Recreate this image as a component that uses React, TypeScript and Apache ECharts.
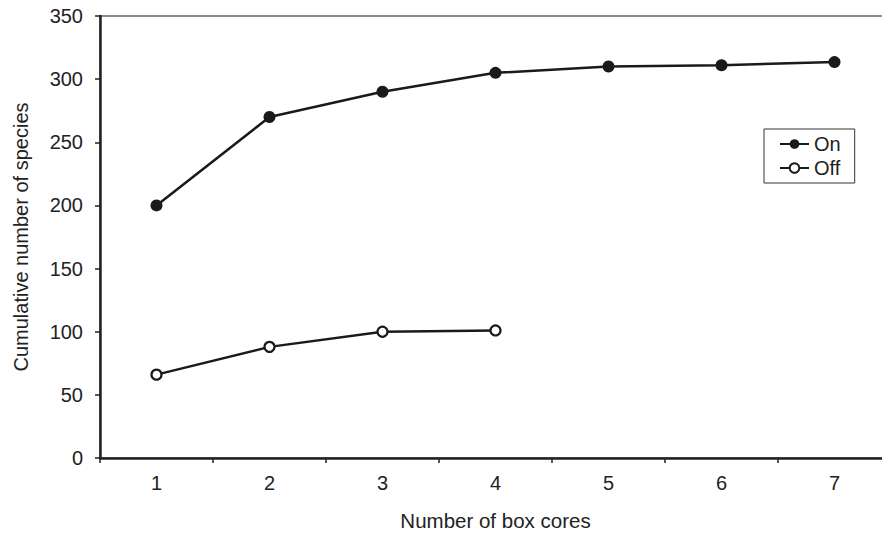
import React, { useEffect, useRef } from "react";
import * as echarts from "echarts";

const categories = ["1", "2", "3", "4", "5", "6", "7"];
const onValues = [200, 270, 290, 305, 310, 311, 313.5];
const offValues = [66, 88, 100, 101];
const yTicks = { min: 0, max: 350, interval: 50 };

export default function App() {
  const ref = useRef<HTMLDivElement>(null);
  useEffect(() => {
    if (!ref.current) return;
    const chart = echarts.init(ref.current, null, { renderer: "svg" });
    const font = "Liberation Sans, Arial, sans-serif";
    chart.setOption({
      animation: false,
      backgroundColor: "#ffffff",
      textStyle: { fontFamily: font },
      grid: {
        left: 100,
        top: 16,
        right: 9,
        bottom: 75,
        show: true,
        borderColor: "#666",
        borderWidth: 1.5,
        backgroundColor: "transparent",
      },
      legend: {
        orient: "vertical",
        left: 764,
        top: 129,
        padding: [5, 14, 5, 15],
        itemGap: 4,
        itemWidth: 29,
        itemHeight: 12,
        borderColor: "#333",
        borderWidth: 1,
        textStyle: { fontSize: 20, color: "#222", fontFamily: font },
        data: ["On", "Off"],
      },
      xAxis: {
        type: "category",
        data: categories,
        boundaryGap: true,
        name: "Number of box cores",
        nameLocation: "middle",
        nameGap: 52,
        nameTextStyle: { fontSize: 20.5, color: "#222", fontFamily: font },
        axisLine: { lineStyle: { color: "#222", width: 2.5 } },
        axisTick: { show: true, alignWithLabel: false, length: 5, lineStyle: { color: "#222", width: 1.5 } },
        axisLabel: { fontSize: 20, color: "#222", margin: 15, fontFamily: font },
        splitLine: { show: false },
      },
      yAxis: {
        type: "value",
        min: yTicks.min,
        max: yTicks.max,
        interval: yTicks.interval,
        name: "Cumulative number of species",
        nameLocation: "middle",
        nameGap: 69,
        nameTextStyle: { fontSize: 20, color: "#222", fontFamily: font },
        axisLine: { show: true, lineStyle: { color: "#222", width: 2.5 } },
        axisTick: { show: true, length: 5, lineStyle: { color: "#222", width: 1.5 } },
        axisLabel: { fontSize: 20, color: "#222", margin: 17, fontFamily: font },
        splitLine: { show: false },
      },
      series: [
        {
          name: "On",
          type: "line",
          data: onValues,
          symbol: "circle",
          symbolSize: 12,
          lineStyle: { color: "#1a1a1a", width: 2.5 },
          itemStyle: { color: "#1a1a1a", borderColor: "#1a1a1a", borderWidth: 0 },
        },
        {
          name: "Off",
          type: "line",
          data: offValues,
          symbol: "circle",
          symbolSize: 10,
          showAllSymbol: true,
          lineStyle: { color: "#1a1a1a", width: 2.5 },
          itemStyle: { color: "#ffffff", borderColor: "#1a1a1a", borderWidth: 2.2 },
        },
      ],
    });
    return () => chart.dispose();
  }, []);
  return (
    <div style={{ position: "fixed", left: 0, top: 0, width: 882, height: 536, overflow: "hidden", background: "#fff" }}>
      <div ref={ref} style={{ width: 900, height: 536 }} />
    </div>
  );
}
